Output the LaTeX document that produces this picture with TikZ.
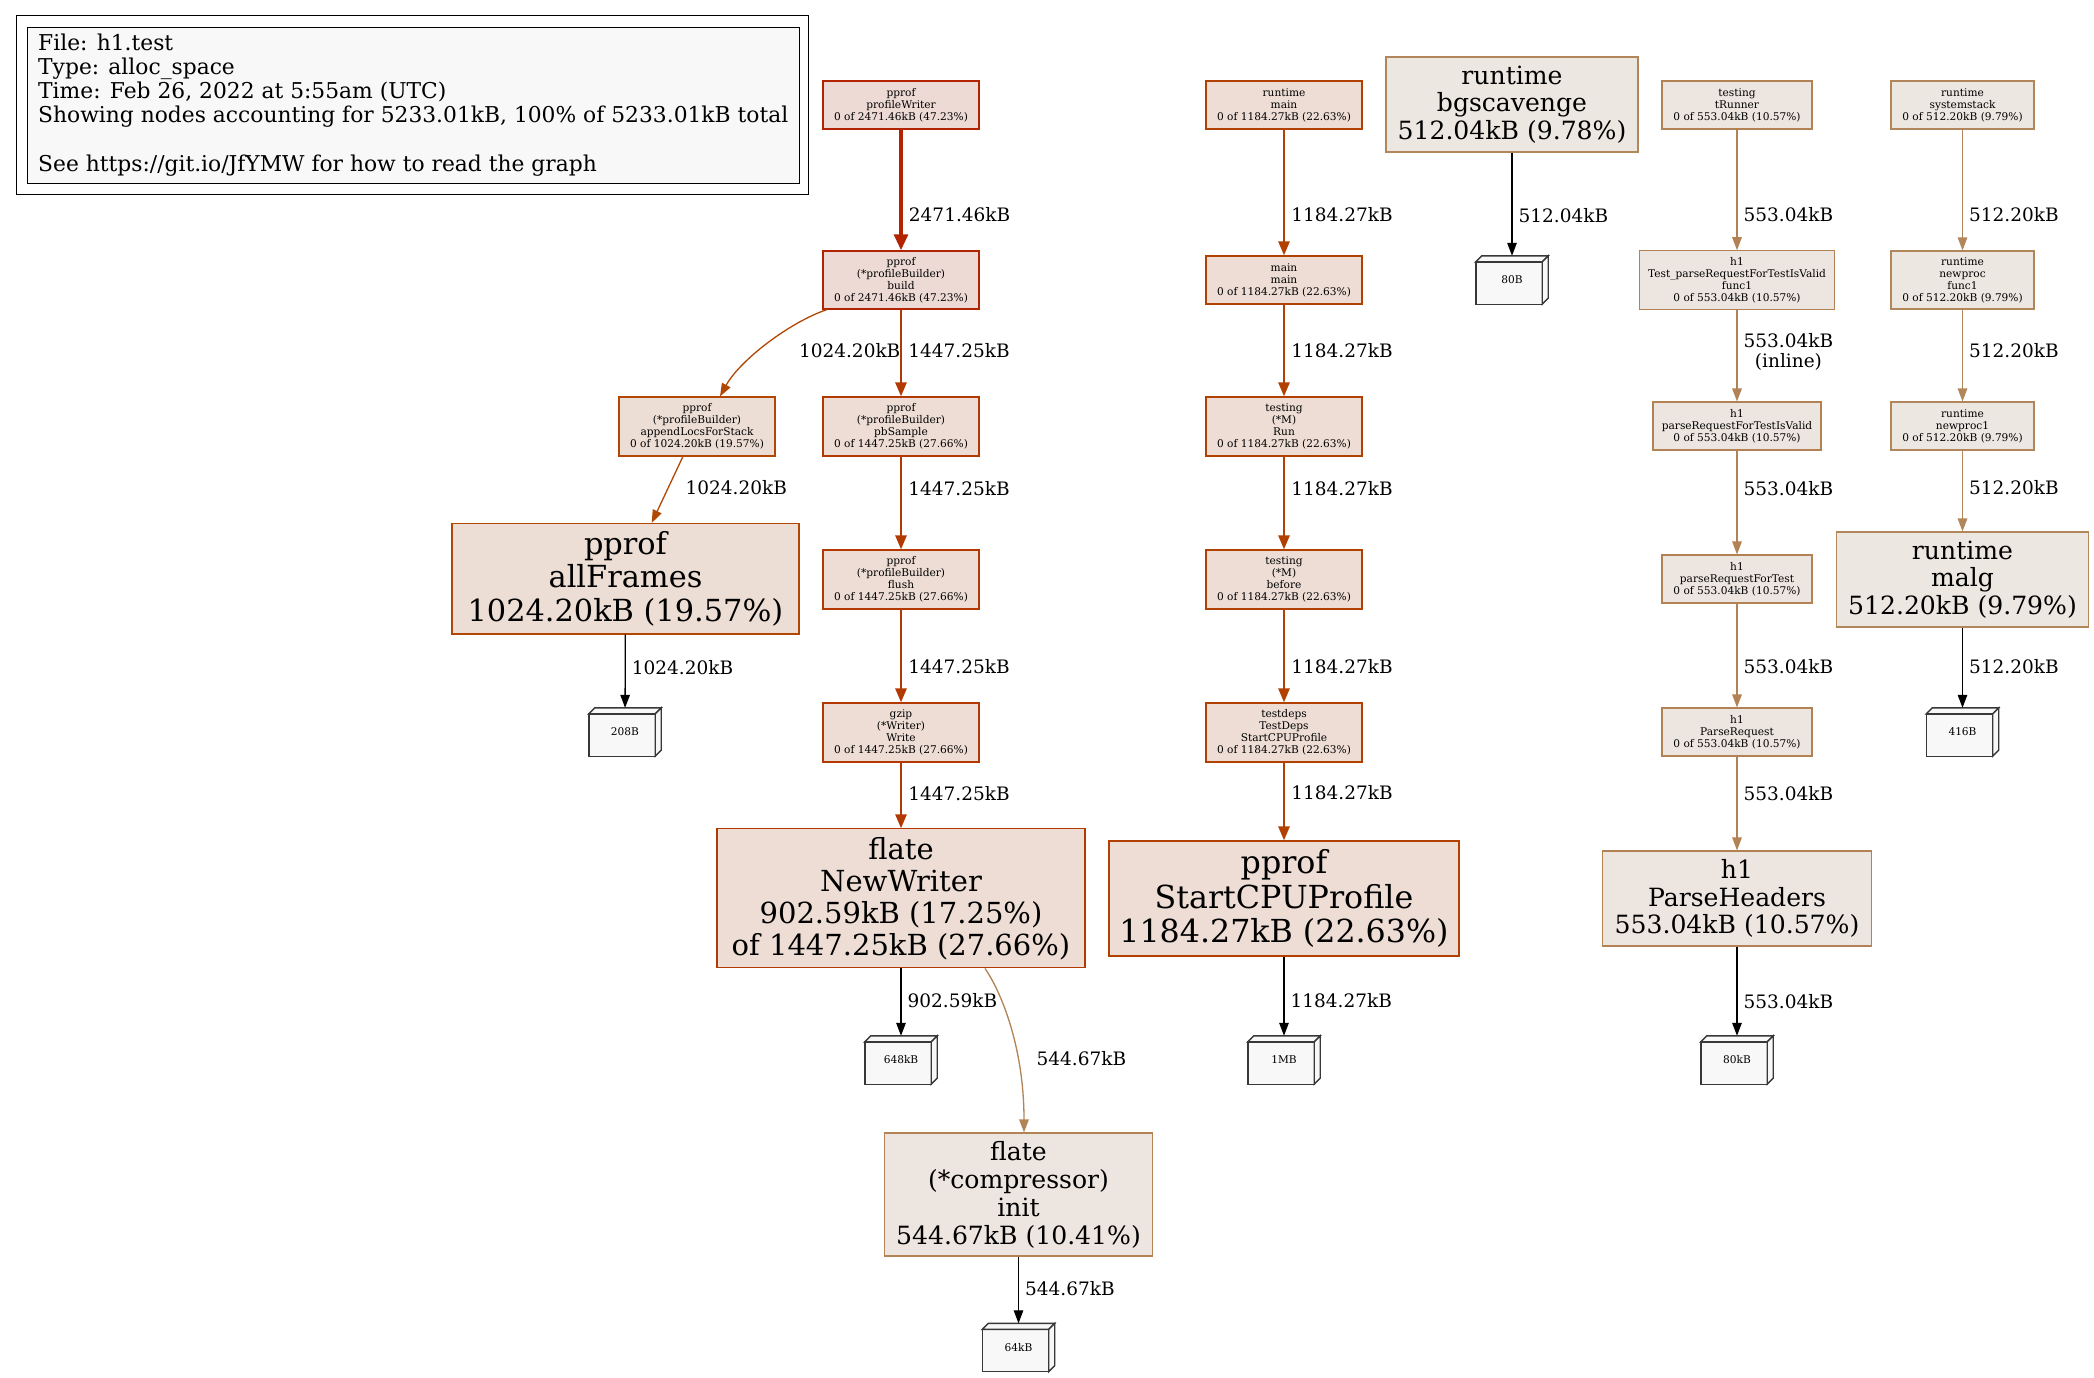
\documentclass[tikz,border=0pt]{standalone}
\usepackage{fontspec}
\setmainfont{DejaVu Serif}
\usetikzlibrary{arrows.meta}
\pgfdeclarelayer{background}
\pgfsetlayers{background,main}
\definecolor{bdA}{HTML}{B22300}
\definecolor{fA}{HTML}{EDDAD5}
\definecolor{bdB}{HTML}{B23900}
\definecolor{fB}{HTML}{EDDDD5}
\definecolor{bdC}{HTML}{B24000}
\definecolor{fC}{HTML}{EDDDD5}
\definecolor{bdD}{HTML}{B24703}
\definecolor{fD}{HTML}{EDDED5}
\definecolor{bdE}{HTML}{B28254}
\definecolor{fE}{HTML}{EDE6E0}
\definecolor{bdF}{HTML}{B28355}
\definecolor{fF}{HTML}{EDE6E0}
\definecolor{bdG}{HTML}{B2865B}
\definecolor{fG}{HTML}{EDE7E1}
\definecolor{tagfill}{HTML}{F8F8F8}
\tikzset{
  gnode/.style={rectangle, draw, line width=1.15pt, inner sep=0pt, align=center},
  small/.style={gnode, font=\fontsize{10.6}{12}\selectfont},
  sz/.style n args={2}{minimum width=#1pt, minimum height=#2pt},
  cA/.style={draw=bdA, fill=fA},
  cB/.style={draw=bdB, fill=fB},
  cC/.style={draw=bdC, fill=fC},
  cD/.style={draw=bdD, fill=fD},
  cE/.style={draw=bdE, fill=fE},
  cF/.style={draw=bdF, fill=fF},
  cG/.style={draw=bdG, fill=fG},
  lbl/.style={anchor=west, inner sep=0pt, xshift=6pt, font=\fontsize{18.5}{20.5}\selectfont, align=center, text=black},
  lblat/.style={lbl, xshift=0pt},
  e3/.style={line width=3.9pt, -{Triangle[length=16pt,width=13.5pt]}},
  e2/.style={line width=2.6pt, -{Triangle[length=14pt,width=11pt]}},
  e1/.style={line width=1.3pt, -{Triangle[length=13pt,width=9.5pt]}},
  tagnode/.style={rectangle, minimum width=72pt, minimum height=48pt, inner sep=0pt, font=\fontsize{10.6}{12}\selectfont},
  memface/.style={draw=black!78, fill=tagfill, line width=1.4pt, line join=miter},
  legtext/.style={align=left, inner sep=0pt, font=\fontsize{21.8}{24.2}\selectfont},
}
\newcommand\memtag[4]{%
  \node[tagnode] (#1) at (#2,#3) {#4};
  \begin{pgfonlayer}{background}
    \path[memface] (#1.south west) -- ([xshift=-6pt]#1.south east) -- ([xshift=-6pt,yshift=-6pt]#1.north east) -- ([yshift=-6pt]#1.north west) -- cycle;
    \path[memface] ([yshift=-6pt]#1.north west) -- ([xshift=6pt]#1.north west) -- (#1.north east) -- ([xshift=-6pt,yshift=-6pt]#1.north east) -- cycle;
    \path[memface] (#1.north east) -- ([yshift=6pt]#1.south east) -- ([xshift=-6pt]#1.south east) -- ([xshift=-6pt,yshift=-6pt]#1.north east) -- cycle;
  \end{pgfonlayer}}
\begin{document}
\begin{tikzpicture}[x=1pt,y=-1pt]
\begin{pgfonlayer}{background}
  \fill[white] (0,0) rectangle (2094,1377);
\end{pgfonlayer}
\useasboundingbox (0,0) rectangle (2094,1377);

% legend
\draw[line width=1pt] (16,15.5) rectangle (808,194);
\node[draw, line width=1.3pt, fill=tagfill, anchor=north west, minimum width=772pt, minimum height=156pt, inner sep=0pt] (legend) at (27,27) {};
\node[legtext, anchor=west] (legtxt) at (38,105) {File: h1.test\\Type: alloc\_space\\Time: Feb 26, 2022 at 5:55am (UTC)\\Showing nodes accounting for 5233.01kB, 100\% of 5233.01kB total\\\mbox{}\\See https://git.io/JfYMW for how to read the graph};

% column A
\node[small, cA, sz={156}{48}] (pw) at (901,105) {pprof\\profileWriter\\0 of 2471.46kB (47.23\%)};
\node[small, cA, sz={156}{58}] (build) at (901,280) {pprof\\(*profileBuilder)\\build\\0 of 2471.46kB (47.23\%)};
\node[small, cD, sz={156}{59}] (append) at (697,426.5) {pprof\\(*profileBuilder)\\appendLocsForStack\\0 of 1024.20kB (19.57\%)};
\node[small, cB, sz={156}{59}] (pbs) at (901,426.5) {pprof\\(*profileBuilder)\\pbSample\\0 of 1447.25kB (27.66\%)};
\node[small, cB, sz={156}{59}] (flush) at (901,579.5) {pprof\\(*profileBuilder)\\flush\\0 of 1447.25kB (27.66\%)};
\node[small, cB, sz={156}{59}] (gzip) at (901,732.5) {gzip\\(*Writer)\\Write\\0 of 1447.25kB (27.66\%)};
\node[gnode, cD, sz={347}{110.5}, font=\fontsize{30.4}{33.5}\selectfont] (allframes) at (625.5,578.8) {pprof\\allFrames\\1024.20kB (19.57\%)};
\node[gnode, cB, sz={368}{139}, font=\fontsize{29}{32}\selectfont] (newwriter) at (901,898.4) {flate\\NewWriter\\902.59kB (17.25\%)\\of 1447.25kB (27.66\%)};
\node[gnode, cF, sz={268}{123}, font=\fontsize{25.1}{28}\selectfont] (compressor) at (1018.5,1194.5) {flate\\(*compressor)\\init\\544.67kB (10.41\%)};
\memtag{t208}{625}{732}{208B}
\memtag{t648}{901}{1060}{648kB}
\memtag{t64}{1018.5}{1347.5}{64kB}

% column B
\node[small, cC, sz={156}{48}] (rmain) at (1284,105) {runtime\\main\\0 of 1184.27kB (22.63\%)};
\node[small, cC, sz={156}{48}] (mmain) at (1284,280) {main\\main\\0 of 1184.27kB (22.63\%)};
\node[small, cC, sz={156}{59}] (run) at (1284,426.5) {testing\\(*M)\\Run\\0 of 1184.27kB (22.63\%)};
\node[small, cC, sz={156}{59}] (before) at (1284,579.5) {testing\\(*M)\\before\\0 of 1184.27kB (22.63\%)};
\node[small, cC, sz={156}{59}] (tdeps) at (1284,732.5) {testdeps\\TestDeps\\StartCPUProfile\\0 of 1184.27kB (22.63\%)};
\node[gnode, cC, sz={350}{115}, font=\fontsize{31.7}{34.5}\selectfont] (startcpu) at (1284,898.5) {pprof\\StartCPUProfile\\1184.27kB (22.63\%)};
\memtag{t1MB}{1284}{1060}{1MB}

% column C
\node[gnode, cG, sz={252}{95}, font=\fontsize{25.1}{27.5}\selectfont] (bgs) at (1512,104.5) {runtime\\bgscavenge\\512.04kB (9.78\%)};
\memtag{t80B}{1512}{280}{80B}

% column D
\node[small, cE, sz={150}{48}] (trunner) at (1737,105) {testing\\tRunner\\0 of 553.04kB (10.57\%)};
\node[small, cE, sz={195}{58.5}] (tpf1) at (1737,280) {h1\\Test\_parseRequestForTestIsValid\\func1\\0 of 553.04kB (10.57\%)};
\node[small, cE, sz={168}{48}] (prv) at (1737,426) {h1\\parseRequestForTestIsValid\\0 of 553.04kB (10.57\%)};
\node[small, cE, sz={150}{48}] (prt) at (1737,579) {h1\\parseRequestForTest\\0 of 553.04kB (10.57\%)};
\node[small, cE, sz={150}{48}] (preq) at (1737,732) {h1\\ParseRequest\\0 of 553.04kB (10.57\%)};
\node[gnode, cE, sz={269}{95}, font=\fontsize{25.1}{27.5}\selectfont] (phead) at (1737,898.5) {h1\\ParseHeaders\\553.04kB (10.57\%)};
\memtag{t80kB}{1737}{1060}{80kB}

% column E
\node[small, cG, sz={143}{48}] (sstack) at (1962.5,105) {runtime\\systemstack\\0 of 512.20kB (9.79\%)};
\node[small, cG, sz={143}{58}] (npf1) at (1962.5,280) {runtime\\newproc\\func1\\0 of 512.20kB (9.79\%)};
\node[small, cG, sz={143}{48}] (np1) at (1962.5,426) {runtime\\newproc1\\0 of 512.20kB (9.79\%)};
\node[gnode, cG, sz={252}{95}, font=\fontsize{25.1}{27.5}\selectfont] (malg) at (1962.5,579.5) {runtime\\malg\\512.20kB (9.79\%)};
\memtag{t416}{1962.5}{732}{416B}

% edges column A
\draw[e3, draw=bdA] (pw) -- node[lbl, pos=.705] {2471.46kB} (build);
\draw[e2, draw=bdB] (build) -- node[lbl, pos=.477] {1447.25kB} (pbs);
\draw[e1, draw=bdD] ([xshift=-74pt]build.south) .. controls (790,322) and (740,360) .. ([xshift=23pt]append.north)
  node[lbl, anchor=east, xshift=0pt, at={(895,351)}] {1024.20kB};
\draw[e1, draw=bdD] (append) -- (allframes) node[lblat, at={(679,488)}] {1024.20kB};
\draw[e2, draw=bdB] (pbs) -- node[lbl, pos=.34] {1447.25kB} (flush);
\draw[e2, draw=bdB] (flush) -- node[lbl, pos=.617] {1447.25kB} (gzip);
\draw[e2, draw=bdB] (gzip) -- node[lbl, pos=.465] {1447.25kB} (newwriter);
\draw[e1] (allframes) -- node[lbl, pos=.45] {1024.20kB} (t208);
\draw[e1] (newwriter) -- node[lbl, pos=.48] {902.59kB} (t648);
\draw[e1, draw=bdF] ([xshift=84pt]newwriter.south) .. controls (1000,990) and (1024,1045) .. ([xshift=5.5pt]compressor.north)
  node[lblat, at={(1030,1058.6)}] {544.67kB};
\draw[e1] (compressor) -- node[lbl, pos=.48] {544.67kB} (t64);

% edges column B
\draw[e2, draw=bdC] (rmain) -- node[lbl, pos=.677] {1184.27kB} (mmain);
\draw[e2, draw=bdC] (mmain) -- node[lbl, pos=.505] {1184.27kB} (run);
\draw[e2, draw=bdC] (run) -- node[lbl, pos=.34] {1184.27kB} (before);
\draw[e2, draw=bdC] (before) -- node[lbl, pos=.617] {1184.27kB} (tdeps);
\draw[e2, draw=bdC] (tdeps) -- node[lbl, pos=.39] {1184.27kB} (startcpu);
\draw[e1] (startcpu) -- node[lbl, pos=.55] {1184.27kB} (t1MB);

% edge column C
\draw[e1] (bgs) -- node[lbl, pos=.615] {512.04kB} (t80B);

% edges column D
\draw[e1, draw=bdE] (trunner) -- node[lbl, pos=.705] {553.04kB} (tpf1);
\draw[e1, draw=bdE] (tpf1) -- node[lbl, pos=.462] {553.04kB\\(inline)} (prv);
\draw[e1, draw=bdE] (prv) -- node[lbl, pos=.362] {553.04kB} (prt);
\draw[e1, draw=bdE] (prt) -- node[lbl, pos=.61] {553.04kB} (preq);
\draw[e1, draw=bdE] (preq) -- node[lbl, pos=.39] {553.04kB} (phead);
\draw[e1] (phead) -- node[lbl, pos=.62] {553.04kB} (t80kB);

% edges column E
\draw[e1, draw=bdG] (sstack) -- node[lbl, pos=.705] {512.20kB} (npf1);
\draw[e1, draw=bdG] (npf1) -- node[lbl, pos=.45] {512.20kB} (np1);
\draw[e1, draw=bdG] (np1) -- node[lbl, pos=.463] {512.20kB} (malg);
\draw[e1] (malg) -- node[lbl, pos=.49] {512.20kB} (t416);
\end{tikzpicture}
\end{document}
